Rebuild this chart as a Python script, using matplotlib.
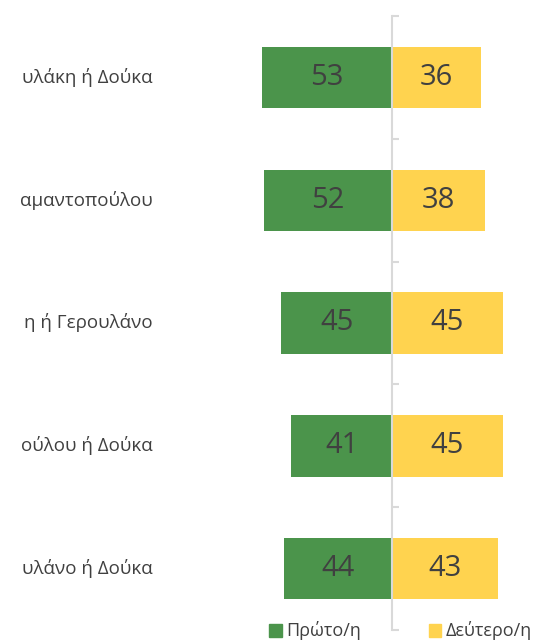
import matplotlib
matplotlib.use("Agg")
import matplotlib.pyplot as plt
from matplotlib.patches import Patch

# Labels as visible in the (cropped) reference
categories = ["υλάκη ή Δούκα", "αμαντοπούλου", "η ή Γερουλάνο",
              "ούλου ή Δούκα", "υλάνο ή Δούκα"]
first_values = [53, 52, 45, 41, 44]
second_values = [36, 38, 45, 45, 43]
series_names = ["Πρώτο/η", "Δεύτερο/η"]

GREEN = "#4B944B"
YELLOW = "#FFD34F"
TEXT = "#404040"
AXIS = "#D9D9D9"

plt.rcParams['font.family'] = ['Open Sans', 'DejaVu Sans']

W, H = 539, 641
fig = plt.figure(figsize=(W / 100, H / 100), dpi=100)
ax = fig.add_axes([0, 11 / H, 1, 614 / H])

ppu = 2.46
ax.set_xlim(-392 / ppu, (W - 392) / ppu)
ax.set_ylim(len(categories) - 0.5, -0.5)

ys = list(range(len(categories)))
ax.barh(ys, [-v for v in first_values], height=0.5, color=GREEN, zorder=2)
ax.barh(ys, second_values, height=0.5, color=YELLOW, zorder=2)

for y, v in zip(ys, first_values):
    ax.text(-v / 2, y, str(v), ha='center', va='center', fontsize=21, color=TEXT, zorder=3)
for y, v in zip(ys, second_values):
    ax.text(v / 2, y, str(v), ha='center', va='center', fontsize=21, color=TEXT, zorder=3)

label_x = (153 - 392) / ppu
for y, c in zip(ys, categories):
    ax.text(label_x, y, c, ha='right', va='center', fontsize=13.5, color=TEXT)

for s in ['top', 'right', 'bottom']:
    ax.spines[s].set_visible(False)
ax.spines['left'].set_position(('data', 0))
ax.spines['left'].set_color(AXIS)
ax.spines['left'].set_linewidth(1.5)
ax.spines['left'].set_zorder(4)
ax.set_yticks([i - 0.5 for i in range(len(categories) + 1)])
ax.set_yticklabels([])
ax.tick_params(axis='y', direction='in', length=5, width=1.5, color=AXIS)
ax.set_xticks([])
ax.patch.set_visible(False)

handles = [Patch(color=GREEN), Patch(color=YELLOW)]
fig.legend(handles, series_names, loc='center left', bbox_to_anchor=(269 / W, 10 / H),
           ncol=2, frameon=False, fontsize=13, handlelength=0.7, handleheight=0.7,
           handletextpad=0.25, columnspacing=3.75, labelcolor=TEXT, borderaxespad=0,
           borderpad=0)

fig.savefig("out.png", dpi=100)
